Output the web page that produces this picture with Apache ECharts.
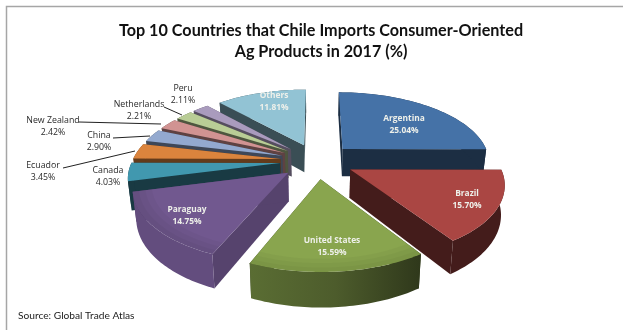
<!DOCTYPE html>
<html>
<head>
<meta charset="utf-8">
<style>html,body{margin:0;padding:0;background:#fff}#c{width:623px;height:330px}</style>
<script src="https://cdn.jsdelivr.net/npm/echarts@6/dist/echarts.min.js"></script>
</head>
<body>
<div id="c"></div>
<script>
// Chile consumer-oriented agricultural imports, share by origin, 2017
const countries = ['Argentina','Brazil','United States','Paraguay','Canada','Ecuador','China','New Zealand','Netherlands','Peru','Others'];
const shares = [25.04,15.70,15.59,14.75,4.03,3.45,2.90,2.42,2.21,2.11,11.81];
const topColors = ['#4572A7','#AA4643','#89A54E','#71588F','#4198AF','#DB843D','#93A9CF','#D19392','#B9CD96','#A99BBD','#92C3D4'];

// Shading of the wall faces, as a fraction of the top colour
const radialShade = [0.40,0.40,0.40,0.76,0.38,0.45,0.42,0.45,0.42,0.50,0.40];
const rimShade    = [0.40,0.40,0.60,0.88,0.38,0.45,0.42,0.45,0.42,0.50,0.40];

// Back-to-front paint order (indices into countries)
const paintOrder = [10,0,9,8,7,6,5,4,3,1,2];

// Label centres and leader lines, in page pixels
const labelCentres = [[404,125],[467,200],[332,247],[187,216],[108,176],[43,171],[99,141],[53,126],[139,110],[183,94],[274,102]];
const insideLabel = [true,true,true,true,false,false,false,false,false,false,true];
const leaders = [
  [[79,122],[161,124]],
  [[113,138],[150,136]],
  [[63,168],[135,151]],
  [[164,107],[182,115]]
];

// Perspective ground plane: unit-radius pie seen from above
const view = {cx:317, cy:161, rx:148, ry:70, persp:0.17, depth:28, shrink:0.98, explode:0.25};

const total = shares.reduce((a,b)=>a+b,0);
const starts = [];
shares.reduce((acc,v,i)=>{starts[i]=acc;return acc+v;},0);

function project(u,v,low){
  const s = 1/(1-view.persp*v);
  let x = view.cx + view.rx*u*s;
  let y = view.cy + view.ry*v*s;
  if(low){ x = view.cx + (x-view.cx)*view.shrink; y += view.depth*s; }
  return [x,y];
}
function shade(hex,f){
  const n = parseInt(hex.slice(1),16);
  return 'rgb('+[(n>>16)&255,(n>>8)&255,n&255].map(c=>Math.round(c*f)).join(',')+')';
}
function sliceChildren(i){
  const a0 = starts[i]/total*2*Math.PI;
  const a1 = (starts[i]+shares[i])/total*2*Math.PI;
  const mid = (a0+a1)/2;
  const ou = view.explode*Math.sin(mid), ov = -view.explode*Math.cos(mid);
  const steps = 48;
  const top = [], bottom = [];
  const arcAt = r => {
    const pts = [];
    for(let k=0;k<=steps;k++){
      const a = a0+(a1-a0)*k/steps;
      pts.push(project(ou+r*Math.sin(a),ov-r*Math.cos(a),false));
    }
    return pts;
  };
  for(let k=0;k<=steps;k++){
    const a = a0+(a1-a0)*k/steps;
    const u = ou+Math.sin(a), v = ov-Math.cos(a);
    top.push(project(u,v,false));
    bottom.push(project(u,v,true));
  }
  const apexT = project(ou,ov,false), apexB = project(ou,ov,true);
  const col = topColors[i];
  const radial = shade(col,radialShade[i]);
  let rim = shade(col,rimShade[i]);
  if(countries[i]==='United States'){
    rim = new echarts.graphic.LinearGradient(0,0,1,0,[
      {offset:0,color:shade(col,0.66)},{offset:0.5,color:shade(col,0.56)},{offset:1,color:shade(col,0.34)}
    ]);
  }
  const poly = (pts,fill)=>({type:'polygon',shape:{points:pts},style:{fill:fill,stroke:null}});
  const faces = [
    poly([apexT,top[0],bottom[0],apexB],radial),
    poly([apexT,top[steps],bottom[steps],apexB],radial),
    poly(top.concat(bottom.slice().reverse()),rim),
    poly([apexT].concat(top),col)
  ];
  // Soft bevel along the near rim of the large front slices
  if(countries[i]==='United States'||countries[i]==='Paraguay'){
    [0.88,0.92,0.96].forEach(r=>{
      faces.push(poly(top.concat(arcAt(r).reverse()),'rgba(0,0,0,0.03)'));
    });
  }
  return faces;
}

const chart = echarts.init(document.getElementById('c'),null,{renderer:'canvas'});
chart.setOption({
  animation:false,
  backgroundColor:'#fff',
  title:{
    text:'Top 10 Countries that Chile Imports Consumer-Oriented\nAg Products in 2017 (%)',
    left:316, top:15, textAlign:'center',
    textStyle:{fontFamily:'Lato',fontWeight:'bold',fontSize:16.2,lineHeight:21,color:'#111'}
  },
  graphic:[
    {type:'polyline',shape:{points:[[6.5,330],[6.5,6.5],[623,6.5]]},style:{stroke:'#a6a6a6',lineWidth:1.5,fill:null},silent:true},
    {type:'text',left:18,top:311,style:{text:'Source: Global Trade Atlas',font:'10.2px Lato',fill:'#222'},silent:true}
  ],
  series:[
    {
      type:'custom',coordinateSystem:'none',silent:true,z:2,
      data:paintOrder.map(i=>[i,shares[i]]),
      renderItem:(p,api)=>({type:'group',children:sliceChildren(api.value(0))})
    },
    {
      type:'custom',coordinateSystem:'none',silent:true,z:3,
      data:countries.map((c,i)=>[i]),
      renderItem:(p,api)=>{
        const i = api.value(0);
        return {type:'text',style:{
          text:countries[i]+'\n'+shares[i].toFixed(2)+'%',
          x:labelCentres[i][0],y:labelCentres[i][1],align:'center',verticalAlign:'middle',
          lineHeight:12,
          font:(insideLabel[i]?'bold 8.4px':'8.8px')+' "Open Sans"',
          fill:insideLabel[i]?'#eef0ea':'#2a2a2a'
        }};
      }
    },
    {
      type:'custom',coordinateSystem:'none',silent:true,z:3,
      data:leaders.map((l,i)=>[i]),
      renderItem:(p,api)=>({type:'polyline',shape:{points:leaders[api.value(0)]},style:{stroke:'#222',lineWidth:1,fill:null}})
    }
  ]
});
</script>
</body>
</html>
